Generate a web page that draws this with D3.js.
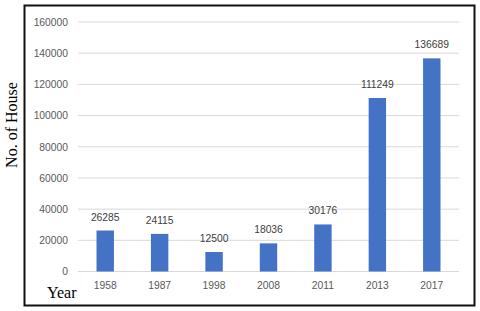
<!DOCTYPE html>
<html><head><meta charset="utf-8">
<script src="https://cdn.jsdelivr.net/npm/d3@7"></script>
<style>body{margin:0;background:#fff}svg{display:block}</style>
</head><body>
<script>
const categories = ["1958","1987","1998","2008","2011","2013","2017"];
const values = [26285, 24115, 12500, 18036, 30176, 111249, 136689];
const yTicks = [0,20000,40000,60000,80000,100000,120000,140000,160000];

const W = 480, H = 311;
const svg = d3.select("body").append("svg").attr("width", W).attr("height", H);
svg.append("rect").attr("width", W).attr("height", H).attr("fill", "#fff");

// frame
svg.append("rect").attr("x", 24.5).attr("y", 5.5).attr("width", 450).attr("height", 300)
  .attr("fill", "none").attr("stroke", "#111").attr("stroke-width", 2);

const x = d3.scaleBand().domain(categories).range([78, 459]).paddingInner(0.68).paddingOuter(0.34);
const y = d3.scaleLinear().domain([0, 160000]).range([271.5, 22]);

// gridlines
svg.append("g").selectAll("line").data(yTicks).join("line")
  .attr("x1", 78).attr("x2", 459)
  .attr("y1", d => y(d)).attr("y2", d => y(d))
  .attr("stroke", "#d9d9d9").attr("stroke-width", 1);

// y axis labels
const yAxis = d3.axisLeft(y).tickValues(yTicks).tickSize(0).tickPadding(0).tickFormat(d3.format("d"));
const gy = svg.append("g").attr("transform", "translate(68,0)").call(yAxis);
gy.select(".domain").remove();
gy.selectAll("text").attr("fill", "#595959").style("font-family", "Liberation Sans, Arial, sans-serif").style("font-size", "10.3px");

// x axis labels
const xAxis = d3.axisBottom(x).tickSize(0).tickPadding(0);
const gx = svg.append("g").attr("transform", "translate(0,282)").call(xAxis);
gx.select(".domain").remove();
gx.selectAll("text").attr("fill", "#595959").style("font-family", "Liberation Sans, Arial, sans-serif").style("font-size", "10.3px");

// bars
svg.append("g").selectAll("rect").data(values).join("rect")
  .attr("x", (d, i) => x(categories[i]))
  .attr("width", x.bandwidth())
  .attr("y", d => y(d))
  .attr("height", d => y(0) - y(d))
  .attr("fill", "#4472C4");

// value labels
svg.append("g").selectAll("text").data(values).join("text")
  .attr("x", (d, i) => x(categories[i]) + x.bandwidth() / 2)
  .attr("y", d => y(d) - 10)
  .attr("text-anchor", "middle")
  .attr("fill", "#404040")
  .style("font-family", "Liberation Sans, Arial, sans-serif").style("font-size", "10.3px")
  .text(d => d);

// axis titles
svg.append("text").attr("transform", "translate(17,125) rotate(-90)")
  .attr("text-anchor", "middle")
  .style("font-family", "Liberation Serif, Times New Roman, serif").style("font-size", "16px")
  .attr("fill", "#000").text("No. of House");
svg.append("text").attr("x", 47).attr("y", 298)
  .style("font-family", "Liberation Serif, Times New Roman, serif").style("font-size", "16px")
  .attr("fill", "#000").text("Year");
</script>
</body></html>
